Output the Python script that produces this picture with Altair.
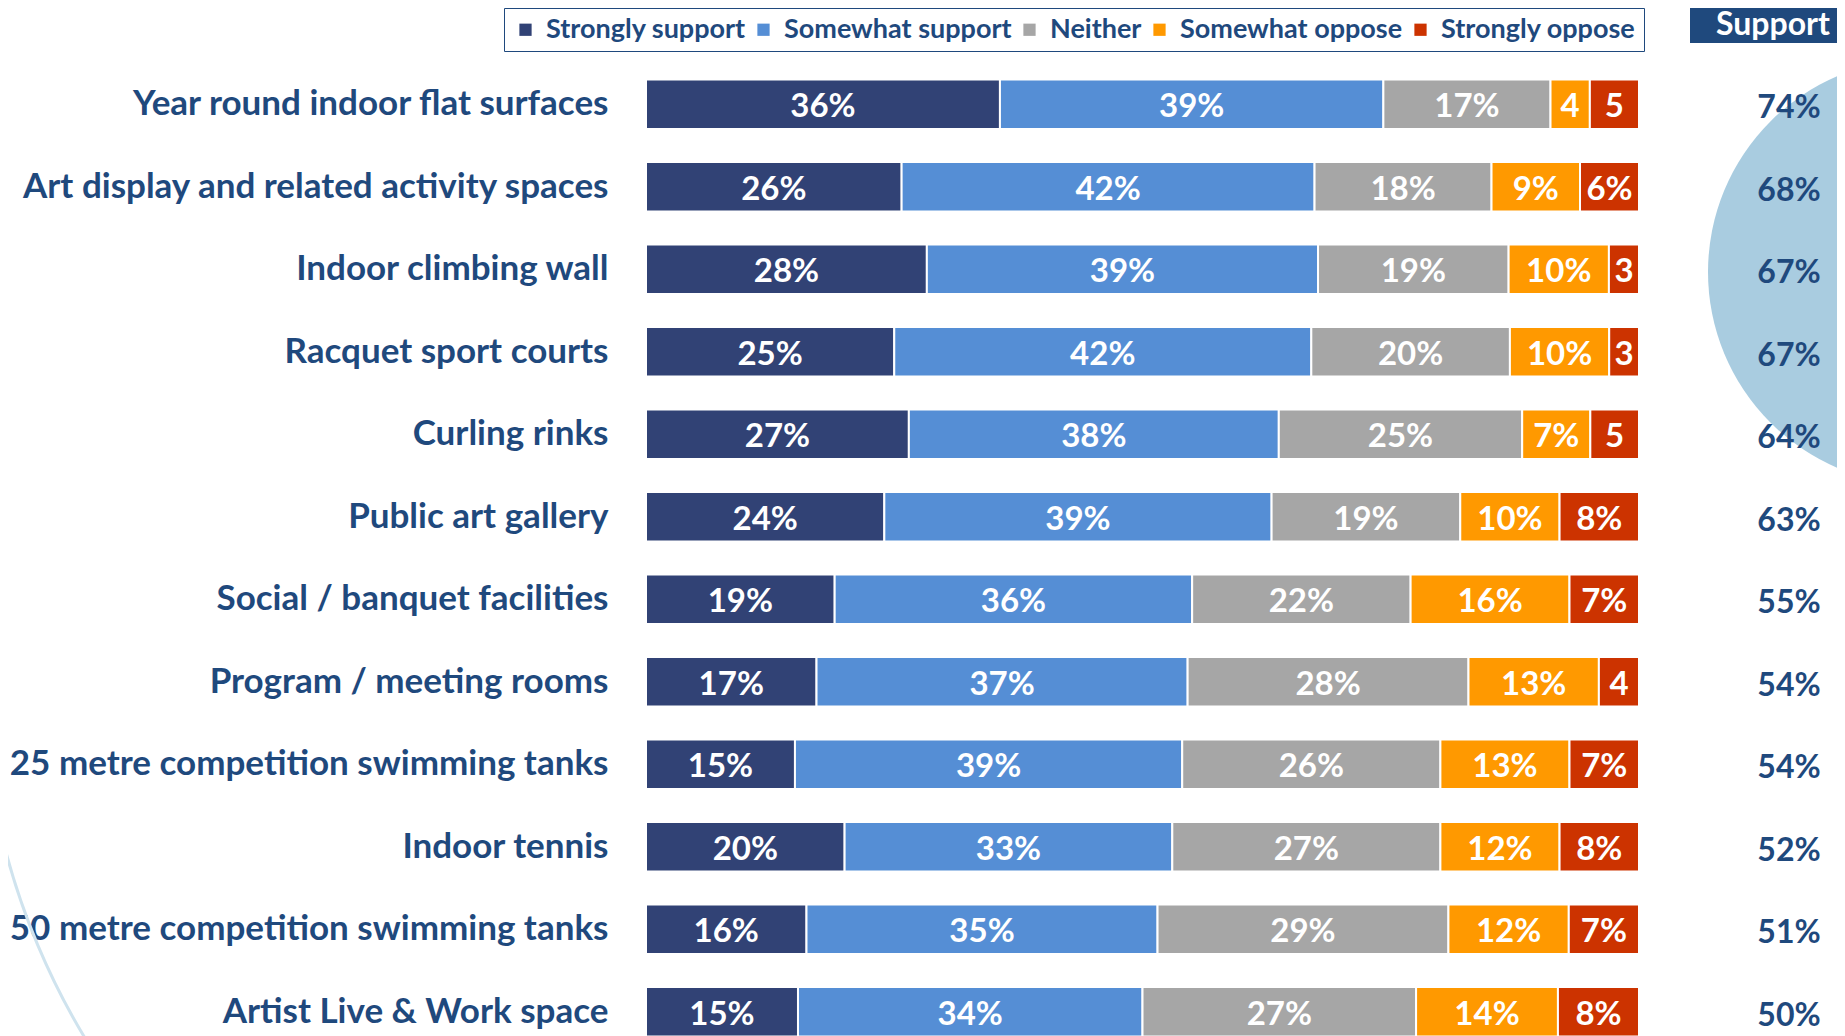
import altair as alt
import pandas as pd

items = [
    "Year round indoor flat surfaces",
    "Art display and related activity spaces",
    "Indoor climbing wall",
    "Racquet sport courts\u00a0",
    "Curling rinks",
    "Public art gallery",
    "Social / banquet facilities",
    "Program / meeting rooms",
    "25 metre competition swimming tanks",
    "Indoor tennis",
    "50 metre competition swimming tanks",
    "Artist Live & Work space",
]
categories = ["Strongly support", "Somewhat support", "Neither", "Somewhat oppose", "Strongly oppose"]
colors = ["#314275", "#558ED5", "#A6A6A6", "#FF9900", "#CC3300"]

strongly_support = [36, 26, 28, 25, 27, 24, 19, 17, 15, 20, 16, 15]
somewhat_support = [39, 42, 39, 42, 38, 39, 36, 37, 39, 33, 35, 34]
neither = [17, 18, 19, 20, 25, 19, 22, 28, 26, 27, 29, 27]
somewhat_oppose = [4, 9, 10, 10, 7, 10, 16, 13, 13, 12, 12, 14]
strongly_oppose = [5, 6, 3, 3, 5, 8, 7, 4, 7, 8, 7, 8]
support_total = [74, 68, 67, 67, 64, 63, 55, 54, 54, 52, 51, 50]

series = [strongly_support, somewhat_support, neither, somewhat_oppose, strongly_oppose]
rows = []
for i, item in enumerate(items):
    for k, cat in enumerate(categories):
        rows.append({"item": item, "category": cat, "value": series[k][i], "order": k})
df = pd.DataFrame(rows)
sdf = pd.DataFrame({"item": items, "label": [f"{v}%" for v in support_total]})

NAVY = "#1F497D"
FONT = "Lato"

yscale = alt.Scale(range=[0, 990], paddingInner=0.4, paddingOuter=0.2)
y_axis = alt.Y(
    "item:N", sort=items, scale=yscale, title=None,
    axis=alt.Axis(ticks=False, domain=False, labelFont=FONT, labelFontSize=35,
                  labelFontWeight="bold", labelColor=NAVY, labelPadding=38,
                  labelLimit=800, grid=False),
)

base = alt.Chart(df).transform_stack(
    stack="value", as_=["x0", "x1"], groupby=["item"],
    sort=[alt.SortField("order")], offset="normalize",
).transform_calculate(
    mid="(datum.x0 + datum.x1) / 2",
    label="datum.value > 5 ? datum.value + '%' : '' + datum.value",
)

bars = base.mark_bar(stroke="white", strokeWidth=2).encode(
    x=alt.X("x0:Q", scale=alt.Scale(domain=[0, 1]), axis=None),
    x2="x1:Q",
    y=y_axis,
    color=alt.Color(
        "category:N", sort=categories,
        scale=alt.Scale(domain=categories, range=colors),
        legend=alt.Legend(
            orient="none", legendX=-142, legendY=-55, direction="horizontal",
            title=None, symbolType="square", symbolSize=150, symbolStrokeWidth=0,
            labelFont=FONT, labelFontSize=27, labelFontWeight="bold", labelColor=NAVY,
            labelLimit=500, strokeColor=NAVY, padding=8, columnPadding=4, labelOffset=7,
        ),
    ),
)

texts = base.mark_text(color="white", font=FONT, fontSize=33, fontWeight="bold", dy=3).encode(
    x="mid:Q", y=y_axis, text="label:N"
)

support = alt.Chart(sdf).mark_text(color=NAVY, font=FONT, fontSize=32, fontWeight="bold", dy=4).encode(
    x=alt.value(1143), y=y_axis, text="label:N"
)

dot = pd.DataFrame({"a": [0]})
circle = alt.Chart(dot).mark_arc(color="#A9CCE0", radius=213, theta=0, theta2=6.2832).encode(
    x=alt.value(1275), y=alt.value(209)
)
thin_arc = alt.Chart(dot).mark_arc(color="#CFE3EE", radius=722, radius2=719, theta=4.08, theta2=4.55).encode(
    x=alt.value(56), y=alt.value(603)
)
header = alt.Chart(dot).mark_rect(color="#1F497D").encode(
    x=alt.value(1044), x2=alt.value(1260), y=alt.value(-70), y2=alt.value(-20)
)
header_text = alt.Chart(dot).mark_text(
    text="Support", color="white", font=FONT, fontSize=32, fontWeight="bold",
    align="left", baseline="middle",
).encode(x=alt.value(1070), y=alt.value(-38))

chart = alt.layer(circle, thin_arc, bars, texts, support, header, header_text).properties(
    width=993, height=955,
    autosize=alt.AutoSizeParams(type="none"),
    padding={"left": 638, "top": 55, "right": 198, "bottom": 18},
    background="white",
).configure_view(stroke=None)

chart.save("out.html", embed_options={"renderer": "svg", "actions": False})
